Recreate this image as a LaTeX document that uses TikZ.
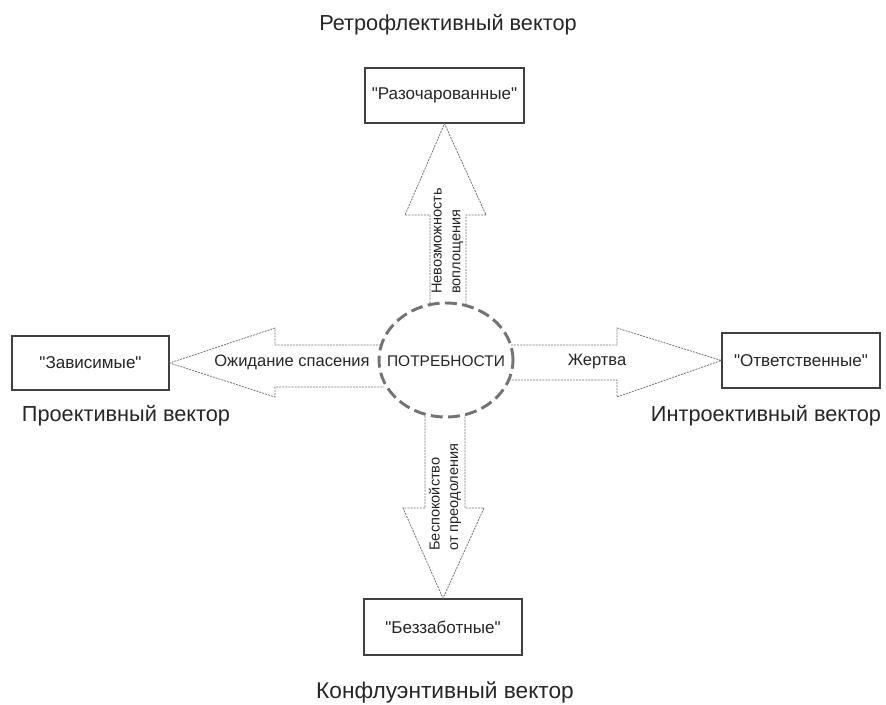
\documentclass[tikz,border=0pt]{standalone}
\usepackage{fontspec}
\setmainfont{Liberation Sans}
\usetikzlibrary{shapes.geometric}
\newcommand{\qq}[1]{\textquotedbl#1\textquotedbl}
\begin{document}
\begin{tikzpicture}[x=0.75pt,y=-0.75pt,
  box/.style={draw=black!75,line width=1pt,fill=white,inner sep=0pt,text=black!85,font=\fontsize{12.8}{15}\selectfont},
  vlabel/.style={text=black!85,font=\fontsize{16.3}{19}\selectfont},
  alabel/.style={text=black!85,font=\fontsize{12.4}{14}\selectfont},
  rlabel/.style={text=black!85,font=\fontsize{10.9}{14}\selectfont,rotate=90,align=left,inner sep=0pt},
  bigarrow/.style={draw=black!55,line width=0.6pt,dash pattern=on 1.5pt off 0.8pt,fill=white},
  needs/.style={draw=black!55,line width=2.2pt,dash pattern=on 9pt off 4pt,ellipse,fill=white}]
\useasboundingbox (0,0) rectangle (886,704);
% boxes
\node[box,minimum width=159*0.75pt,minimum height=55*0.75pt] (razo) at (444.5,95.5) {\qq{Разочарованные}};
\node[box,minimum width=157*0.75pt,minimum height=54*0.75pt] (zav) at (90.5,363) {\qq{Зависимые}};
\node[box,minimum width=158*0.75pt,minimum height=55*0.75pt] (otv) at (801,360.5) {\qq{Ответственные}};
\node[box,minimum width=158*0.75pt,minimum height=56*0.75pt] (bez) at (443,627) {\qq{Беззаботные}};
% arrows
\draw[bigarrow] (430,312) -- (430,215) -- (405,215) -- (razo.south) -- (486,215) -- (466,215) -- (466,312);
\draw[bigarrow] (384,345) -- (275,345) -- (275,328) -- (zav.east) -- (275,397) -- (275,387) -- (384,387);
\draw[bigarrow] (508,345) -- (617,345) -- (617,328) -- (otv.west) -- (617,397) -- (617,380) -- (508,380);
\draw[bigarrow] (425,410) -- (425,508) -- (403,508) -- (bez.north) -- (484,508) -- (465,508) -- (465,410);
% center
\node[needs,minimum width=134*0.75pt,minimum height=114*0.75pt,inner sep=0pt] (need) at (446,360) {};
\node[alabel,font=\fontsize{11.6}{13}\selectfont] (needt) at (446,361) {ПОТРЕБНОСТИ};
% arrow labels
\node[alabel] (l1) at (292,362) {Ожидание спасения};
\node[alabel] (l2) at (597,362) {Жертва};
\node[rlabel] (l3) at (447.5,241) {Невозможность\\воплощения};
\node[rlabel] (l4) at (445,497) {Беспокойство\\от преодоления};
% vector labels
\node[vlabel] (v1) at (448,25) {Ретрофлективный вектор};
\node[vlabel] (v2) at (126,416) {Проективный вектор};
\node[vlabel] (v3) at (766,416) {Интроективный вектор};
\node[vlabel,font=\fontsize{17}{19}\selectfont] (v4) at (445,692) {Конфлуэнтивный вектор};
\end{tikzpicture}
\end{document}
